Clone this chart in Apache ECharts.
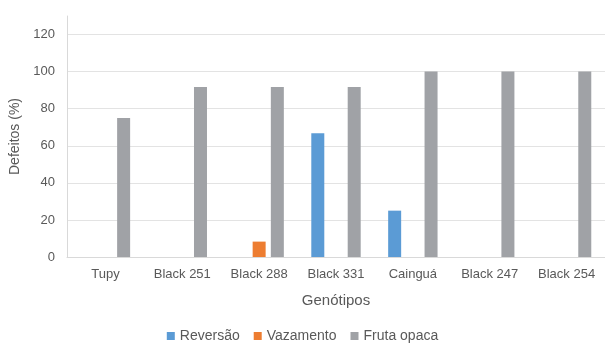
<!DOCTYPE html>
<html>
<head>
<meta charset="utf-8">
<script src="https://cdn.jsdelivr.net/npm/echarts@6/dist/echarts.min.js"></script>
<style>
  html, body { margin: 0; padding: 0; background: #fff; }
  #chart { width: 605px; height: 345px; }
</style>
</head>
<body>
<div id="chart"></div>
<script>
const genotipos = ['Tupy', 'Black 251', 'Black 288', 'Black 331', 'Cainguá', 'Black 247', 'Black 254'];
const reversao = [0, 0, 0, 66.7, 25, 0, 0];
const vazamento = [0, 0, 8.3, 0, 0, 0, 0];
const frutaOpaca = [75, 91.7, 91.7, 91.7, 100, 100, 100];
const yTicks = { min: 0, max: 130, interval: 20 };

const font = 'Liberation Sans, Arial, sans-serif';
const textColor = '#595959';

function initChart() {
    const dom = document.getElementById('chart');
    const chart = echarts.init(dom);

    const bar = (name, data, color) => ({
        name: name,
        type: 'bar',
        data: data,
        barWidth: 13,
        barGap: '40%',
        itemStyle: { color: color },
        emphasis: { disabled: true }
    });

    chart.setOption({
        animation: false,
        textStyle: { fontFamily: font },
        grid: { left: 67, right: 0, top: 16, bottom: 88 },
        legend: {
            bottom: -3,
            left: 'center',
            itemWidth: 8,
            itemHeight: 8,
            itemGap: 14,
            icon: 'rect',
            textStyle: { color: textColor, fontSize: 14, fontFamily: font },
            data: ['Reversão', 'Vazamento', 'Fruta opaca']
        },
        xAxis: {
            type: 'category',
            data: genotipos,
            name: 'Genótipos',
            nameLocation: 'middle',
            nameGap: 36,
            nameTextStyle: { color: textColor, fontSize: 15, fontFamily: font },
            axisLine: { lineStyle: { color: '#d9d9d9' } },
            axisTick: { show: false },
            axisLabel: { color: textColor, fontSize: 13, margin: 11 }
        },
        yAxis: {
            type: 'value',
            min: yTicks.min,
            max: yTicks.max,
            interval: yTicks.interval,
            name: 'Defeitos (%)',
            nameLocation: 'middle',
            nameGap: 41,
            nameTextStyle: { color: textColor, fontSize: 14, fontFamily: font },
            axisLine: { show: true, lineStyle: { color: '#d9d9d9' } },
            axisTick: { show: false },
            axisLabel: { color: textColor, fontSize: 13, margin: 12, showMaxLabel: false },
            splitLine: { showMaxLine: false, lineStyle: { color: '#e3e3e3' } }
        },
        series: [
            bar('Reversão', reversao, '#5b9bd5'),
            bar('Vazamento', vazamento, '#ed7d31'),
            bar('Fruta opaca', frutaOpaca, '#a0a2a6')
        ]
    });
}

document.addEventListener('DOMContentLoaded', initChart);
</script>
</body>
</html>
